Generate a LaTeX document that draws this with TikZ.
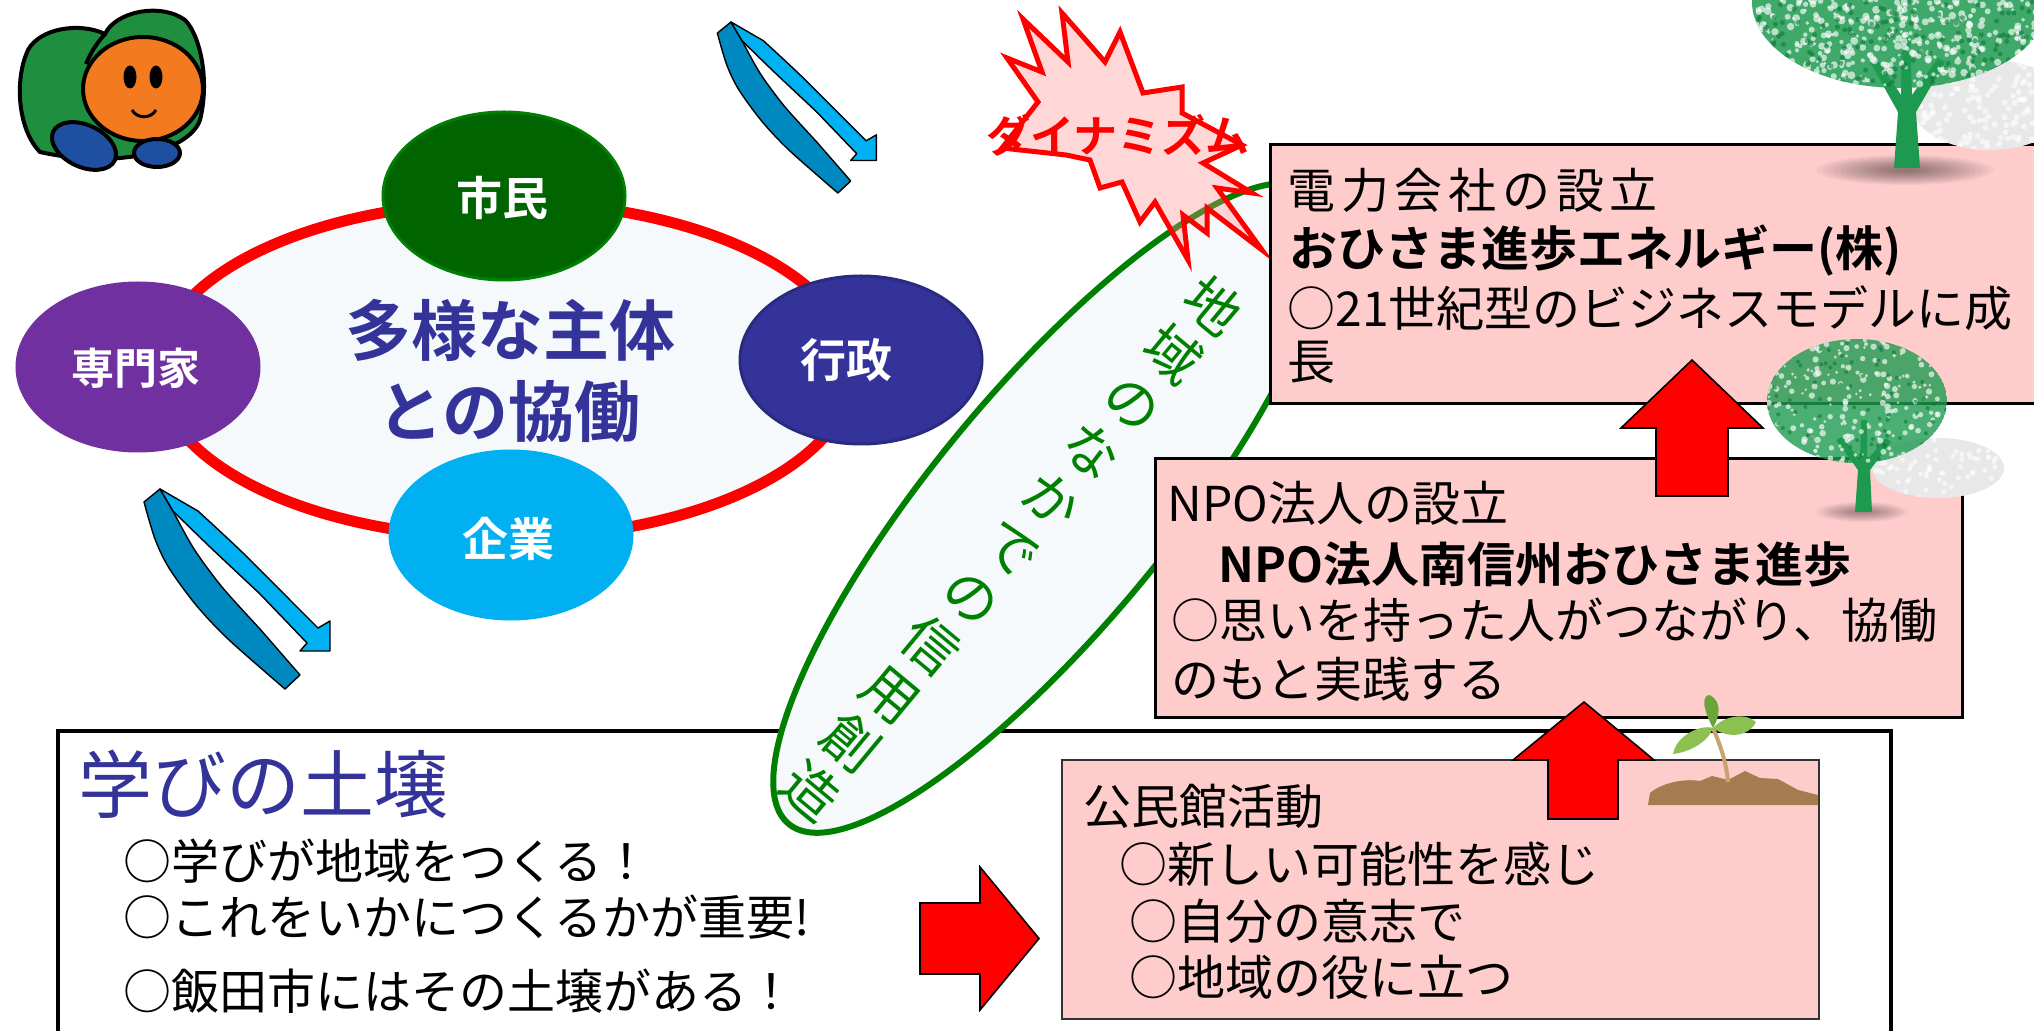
\documentclass[tikz,border=0pt]{standalone}
\usepackage{fontspec}
\newfontfamily\jp{Noto Sans CJK JP}[BoldFont={Noto Sans CJK JP Bold}]
\usetikzlibrary{shapes.geometric}

\definecolor{ringred}{HTML}{FF0000}
\definecolor{paleblue}{HTML}{F5F9FB}
\definecolor{citizen}{HTML}{006400}
\definecolor{citizenedge}{HTML}{008000}
\definecolor{expert}{HTML}{7030A0}
\definecolor{govt}{HTML}{333399}
\definecolor{govtedge}{HTML}{2A2A7E}
\definecolor{firm}{HTML}{00B0F0}
\definecolor{navytext}{HTML}{333399}
\definecolor{boxpink}{HTML}{FFCCCC}
\definecolor{trustgreen}{HTML}{008000}
\definecolor{ribbonfront}{HTML}{00B0F0}
\definecolor{ribbonback}{HTML}{0088C0}
\definecolor{burstpink}{HTML}{FF8F8F}
\definecolor{treegreen}{HTML}{1E9A50}
\definecolor{treedark}{HTML}{0F7A3A}
\definecolor{soilbrown}{HTML}{A67B50}
\definecolor{stemtan}{HTML}{C9A46A}
\definecolor{leaflight}{HTML}{8CC152}
\definecolor{leafdark}{HTML}{6BA539}
\definecolor{mascotgreen}{HTML}{1F8F3F}
\definecolor{mascotorange}{HTML}{F47A20}
\definecolor{mascotblue}{HTML}{1E4FA0}

\begin{document}
\begin{tikzpicture}[x=0.5pt,y=0.5pt,
  actor/.style={ellipse, minimum width=121pt, minimum height=84pt, inner sep=0pt, line width=1.5pt},
  actorlabel/.style={text=white, inner sep=0pt, font=\jp\bfseries\fontsize{23}{23}\selectfont},
  panel/.style={rectangle, draw=black, fill=boxpink, line width=1.5pt, anchor=north west, inner sep=0pt},
  txt/.style={anchor=base west, inner sep=0pt, font=\jp\fontsize{24}{24}\selectfont},
  txtb/.style={anchor=base west, inner sep=0pt, font=\jp\bfseries\fontsize{24}{24}\selectfont},
  blockarrow/.style={fill=red, draw=black, line width=0.8pt, line join=miter},
  ribbon/.style={draw=black, line width=0.7pt, line join=round},
  uturn/.pic={
    % back strip of the folded ribbon
    \filldraw[ribbon, fill=ribbonback] (0,0)
      -- plot[smooth] coordinates {(-16,-13) (-5,-50) (9,-79) (36,-116) (68,-150) (125,-200)}
      -- (140,-186)
      -- plot[smooth] coordinates {(100,-140) (62,-98) (34,-60) (13,-22)} -- cycle;
    % front strip with its head
    \filldraw[ribbon, fill=ribbonfront] (0,0)
      -- plot[smooth] coordinates {(38,-22) (82,-63) (132,-113) (158,-139)}
      -- (170,-132) -- (170,-162) -- (140,-162) -- (147,-154)
      -- plot[smooth] coordinates {(100,-105) (50,-58) (13,-22)} -- cycle;
  }
]
\useasboundingbox (0,0) rectangle (2034,-1031);
\fill[white] (0,0) rectangle (2034,-1031);

% ---------- collaboration ring ----------
\node[ellipse, draw=ringred, fill=paleblue, line width=5.5pt, minimum width=348pt, minimum height=168pt, inner sep=0pt] (ring) at (505,-370) {};
\node[text=navytext, inner sep=0pt, font=\jp\bfseries\fontsize{33}{33}\selectfont] (theme1) at (510,-330) {多様な主体};
\node[text=navytext, inner sep=0pt, font=\jp\bfseries\fontsize{33}{33}\selectfont] (theme2) at (509,-412) {との協働};

\node[actor, fill=citizen, draw=citizenedge] (shimin) at (504,-196) {};
\node[actorlabel] (shiminlabel) at (502,-198) {市民};
\node[actor, fill=expert, draw=expert] (senmon) at (138,-367) {};
\node[actorlabel, font=\jp\bfseries\fontsize{21.5}{21.5}\selectfont] (senmonlabel) at (136,-368) {専門家};
\node[actor, fill=govt, draw=govtedge] (gyosei) at (861,-360) {};
\node[actorlabel] (gyoseilabel) at (846,-360) {行政};
\node[actor, fill=firm, draw=firm] (kigyo) at (511,-535) {};
\node[actorlabel] (kigyolabel) at (508,-539) {企業};

% ---------- folded ribbon arrows ----------
\pic at (731,-22) [scale=0.855] {uturn};
\pic at (160,-489) {uturn};

% ---------- learning ground ----------
\node[draw=black, fill=white, line width=1.75pt, anchor=north west, minimum width=916.5pt, minimum height=160pt, inner sep=0pt] (ground) at (56,-729) {};
\node[anchor=base west, inner sep=0pt, text=navytext, font=\jp\fontsize{37}{37}\selectfont] (groundtitle) at (78,-812) {学びの土壌};
\node[txt] (ground1) at (123,-879) {○学びが地域をつくる！};
\node[txt] (ground2) at (123,-935) {○これをいかにつくるかが重要!};
\node[txt] (ground3) at (123,-1009) {○飯田市にはその土壌がある！};

% ---------- community hall box ----------
\node[panel, draw=black!80, line width=1pt, minimum width=378.5pt, minimum height=129.5pt] (kominkan) at (1061,-759) {};
\node[txt] (kominkan1) at (1083,-824) {公民館活動};
\node[txt] (kominkan2) at (1119,-882) {○新しい可能性を感じ};
\node[txt] (kominkan3) at (1129,-939) {○自分の意志で};
\node[txt] (kominkan4) at (1129,-995) {○地域の役に立つ};

% arrow from the ground to the hall
\filldraw[blockarrow] (920,-903) -- (980,-903) -- (980,-867) -- (1039,-938.5) -- (980,-1010) -- (980,-974) -- (920,-974) -- cycle;

% ---------- trust ellipse ----------
\node[ellipse, draw=trustgreen, fill=paleblue, line width=3pt, minimum width=410pt, minimum height=118pt, rotate=50.4, inner sep=0pt] (trust) at (1050,-508) {};
\node[text=trustgreen, inner sep=0pt, rotate=-39.7, align=center, font=\jp\fontsize{27.5}{31.5}\selectfont] (trusttext) at (1012,-548)
  {地\\域\\の\\な\\か\\で\\の\\信\\用\\創\\造};

% ---------- dynamism burst ----------
\filldraw[draw=red, line width=2.5pt, fill=burstpink, fill opacity=0.35, line join=miter]
  (1023,-19) -- (1042,-72) -- (1007,-58) -- (1038,-102) -- (1002,-148) -- (1066,-155)
  -- (1090,-160) -- (1100,-188) -- (1122,-182) -- (1140,-222) -- (1155,-202)
  -- (1188,-260) -- (1183,-215) -- (1207,-233) -- (1207,-208) -- (1262,-250)
  -- (1217,-188) -- (1252,-193) -- (1203,-163) -- (1242,-145) -- (1182,-113)
  -- (1182,-87) -- (1143,-93) -- (1120,-32) -- (1105,-62) -- (1062,-13)
  -- (1068,-62) -- cycle;
\node[text=red, inner sep=0pt, font=\jp\bfseries\fontsize{22}{22}\selectfont] (dynamism) at (1118,-135) {ダイナミズム};

% ---------- NPO box ----------
\node[panel, minimum width=403.5pt, minimum height=129.5pt] (npo) at (1154,-457) {};
\node[txt] (npo1) at (1167,-522) {NPO法人の設立};
\node[txtb] (npo2) at (1218,-582) {NPO法人南信州おひさま進歩};
\node[txt] (npo3) at (1171,-639) {○思いを持った人がつながり、協働};
\node[txt] (npo4) at (1171,-697) {のもと実践する};

% ---------- power company box ----------
\node[panel, minimum width=388pt, minimum height=129.5pt] (power) at (1269,-143) {};
\node[txt] (power1) at (1287,-209) {\addfontfeature{LetterSpace=12}電力会社の設立};
\node[txtb] (power2) at (1289,-267) {おひさま進歩エネルギー(株)};
\node[txt] (power3) at (1287,-327) {○21世紀型のビジネスモデルに成};
\node[txt] (power4) at (1287,-380) {長};

% ---------- growth arrows ----------
\filldraw[blockarrow] (1548,-819) -- (1548,-760) -- (1513,-760) -- (1584,-702) -- (1654,-760) -- (1618,-760) -- (1618,-819) -- cycle;
\filldraw[blockarrow] (1656,-496) -- (1656,-428) -- (1621,-428) -- (1692,-360) -- (1763,-428) -- (1728,-428) -- (1728,-496) -- cycle;

% ---------- large tree ----------
\begin{scope}
  \clip (1990,-105) ellipse [x radius=78, y radius=45];
  \fill[gray!18] (1990,-105) ellipse [x radius=78, y radius=45];
  \pgfmathsetseed{5}
  \foreach \k in {1,...,140}{
    \pgfmathsetmacro{\px}{1912+156*rnd}
    \pgfmathsetmacro{\py}{-60-90*rnd}
    \fill[white, opacity=0.6] (\px,\py) circle (3);
  }
\end{scope}
\foreach \k in {1,...,14}
  \fill[black, opacity=0.035] (1905,-170) ellipse [x radius={95-6*\k}, y radius={16-\k}];
\fill[treegreen] (1894,-168) -- (1898,-112) -- (1870,-62) -- (1877,-59) -- (1901,-95)
  -- (1902,-40) -- (1910,-40) -- (1912,-95) -- (1938,-58) -- (1945,-62) -- (1916,-112) -- (1920,-168) -- cycle;
\begin{scope}
  \clip (1900,-2) ellipse [x radius=148, y radius=86];
  \fill[treegreen, opacity=0.85] (1900,-2) ellipse [x radius=148, y radius=86];
  \pgfmathsetseed{11}
  \foreach \k in {1,...,420}{
    \pgfmathsetmacro{\px}{1752+296*rnd}
    \pgfmathsetmacro{\py}{-90*rnd}
    \pgfmathsetmacro{\pr}{1.5+2.5*rnd}
    \fill[white, opacity=0.65] (\px,\py) circle (\pr);
  }
  \foreach \k in {1,...,160}{
    \pgfmathsetmacro{\px}{1752+296*rnd}
    \pgfmathsetmacro{\py}{-90*rnd}
    \fill[treedark, opacity=0.6] (\px,\py) circle (2.5);
  }
\end{scope}

% ---------- middle tree ----------
\begin{scope}
  \clip (1938,-468) ellipse [x radius=66, y radius=30];
  \fill[gray!18] (1938,-468) ellipse [x radius=66, y radius=30];
  \pgfmathsetseed{9}
  \foreach \k in {1,...,70}{
    \pgfmathsetmacro{\px}{1872+132*rnd}
    \pgfmathsetmacro{\py}{-438-60*rnd}
    \fill[white, opacity=0.6] (\px,\py) circle (2.5);
  }
\end{scope}
\foreach \k in {1,...,10}
  \fill[black, opacity=0.04] (1862,-512) ellipse [x radius={50-4*\k}, y radius={11-\k}];
\fill[treegreen] (1855,-512) -- (1858,-470) -- (1836,-440) -- (1842,-437) -- (1860,-460)
  -- (1861,-420) -- (1867,-420) -- (1867,-460) -- (1886,-438) -- (1891,-442) -- (1870,-470) -- (1872,-512) -- cycle;
\begin{scope}
  \clip (1857,-401) ellipse [x radius=90, y radius=62];
  \fill[treegreen, opacity=0.8] (1857,-401) ellipse [x radius=90, y radius=62];
  \pgfmathsetseed{23}
  \foreach \k in {1,...,230}{
    \pgfmathsetmacro{\px}{1767+180*rnd}
    \pgfmathsetmacro{\py}{-339-124*rnd}
    \pgfmathsetmacro{\pr}{1.3+2*rnd}
    \fill[white, opacity=0.65] (\px,\py) circle (\pr);
  }
  \foreach \k in {1,...,80}{
    \pgfmathsetmacro{\px}{1767+180*rnd}
    \pgfmathsetmacro{\py}{-339-124*rnd}
    \fill[treedark, opacity=0.6] (\px,\py) circle (2);
  }
\end{scope}

% ---------- sprout ----------
\fill[soilbrown] (1648,-805) -- (1650,-793) .. controls (1660,-784) and (1682,-778) .. (1700,-781)
  -- (1712,-776) -- (1728,-780) -- (1745,-771) -- (1760,-778) -- (1778,-779) -- (1798,-790) -- (1818,-795) -- (1818,-805) -- cycle;
\draw[stemtan, line width=2pt] (1728,-782) .. controls (1726,-760) and (1720,-745) .. (1713,-728);
\fill[leaflight] (1713,-728) .. controls (1700,-724) and (1676,-736) .. (1673,-754) .. controls (1690,-752) and (1708,-742) .. (1713,-728);
\fill[leafdark] (1713,-728) .. controls (1698,-700) and (1706,-694) .. (1710,-695) .. controls (1722,-702) and (1720,-716) .. (1713,-728);
\fill[leaflight] (1713,-728) .. controls (1724,-716) and (1745,-712) .. (1756,-722) .. controls (1748,-738) and (1726,-738) .. (1713,-728);

% ---------- mascot ----------
\filldraw[fill=mascotgreen, draw=black, line width=2pt] (40,-152) .. controls (18,-130) and (14,-80) .. (28,-50)
  .. controls (40,-28) and (80,-22) .. (105,-34) .. controls (115,-12) and (160,-2) .. (185,-20)
  .. controls (200,-35) and (210,-80) .. (200,-120) .. controls (190,-150) and (120,-170) .. (40,-152) -- cycle;
\draw[black, line width=2pt] (105,-34) .. controls (96,-44) and (90,-54) .. (86,-64);
\filldraw[fill=mascotorange, draw=black, line width=2pt] (143,-89) ellipse [x radius=60, y radius=52];
\fill[black] (130,-77) ellipse [x radius=6.5, y radius=11.5];
\fill[black] (156,-77) ellipse [x radius=6.5, y radius=11.5];
\draw[black, line width=1.5pt] (132,-110) .. controls (137,-119) and (151,-119) .. (156,-110);
\filldraw[fill=mascotblue, draw=black, line width=2pt, rotate around={-25:(84,-146)}] (84,-146) ellipse [x radius=34, y radius=21];
\filldraw[fill=mascotblue, draw=black, line width=2pt] (157,-153) ellipse [x radius=23, y radius=14];
\end{tikzpicture}
\end{document}
